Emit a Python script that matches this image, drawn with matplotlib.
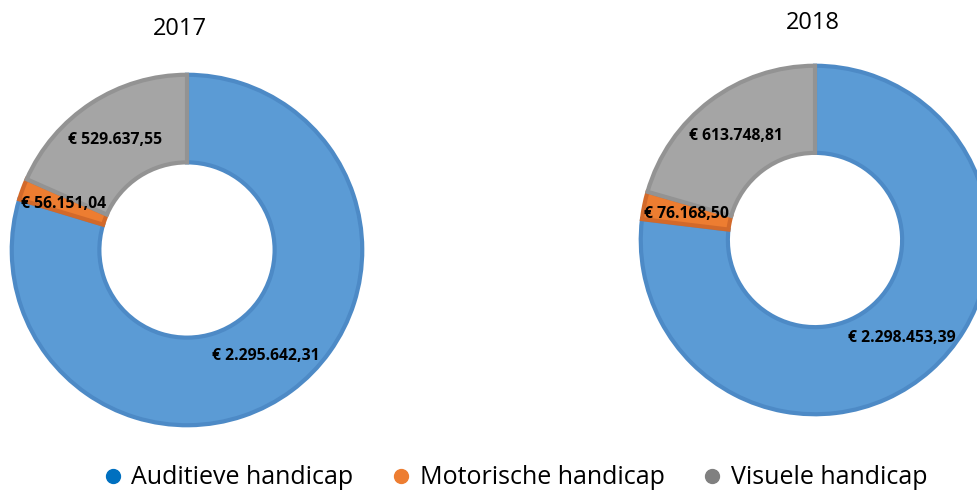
import matplotlib.pyplot as plt
from matplotlib.lines import Line2D

# Bedragen per type handicap
categories = ['Auditieve handicap', 'Motorische handicap', 'Visuele handicap']
years = ['2017', '2018']
values_2017 = [2295642.31, 56151.04, 529637.55]
values_2018 = [2298453.39, 76168.50, 613748.81]

fill_colors = ['#5B9BD5', '#ED7D31', '#A5A5A5']
edge_colors = ['#4D8AC6', '#D2692A', '#939393']
legend_colors = ['#0070C0', '#ED7D31', '#808080']

plt.rcParams['font.family'] = ['Open Sans', 'DejaVu Sans']


def euro(v):
    s = f'{v:,.2f}'
    s = s.replace(',', 'X').replace('.', ',').replace('X', '.')
    return '€ ' + s


W, H = 977, 493
fig = plt.figure(figsize=(W / 100, H / 100), dpi=100)

# (center x, center y, radius) in pixels
layout = [(187, 250, 177), (815, 240, 176)]
titles_pos = [(180, 29), (813, 23)]

for vals, year, (cx, cy, r), (tx, ty) in zip([values_2017, values_2018], years, layout, titles_pos):
    ax = fig.add_axes([(cx - r) / W, (H - cy - r) / H, 2 * r / W, 2 * r / H])
    wedges, texts = ax.pie(vals, labels=[euro(v) for v in vals], colors=fill_colors,
                           startangle=90, counterclock=False, labeldistance=0.75,
                           wedgeprops=dict(width=0.5, linewidth=3),
                           textprops=dict(fontsize=11.3, fontweight='bold', color='black',
                                          ha='center', va='center'))
    for w, ec in zip(wedges, edge_colors):
        w.set_edgecolor(ec)
    ax.set_xlim(-1.01, 1.01)
    ax.set_ylim(-1.01, 1.01)
    ax.axis('off')
    fig.text(tx / W, 1 - ty / H, year, ha='center', va='center', fontsize=17)

handles = [Line2D([0], [0], marker='o', linestyle='none', markersize=10,
                  markerfacecolor=c, markeredgecolor=c) for c in legend_colors]
fig.legend(handles, categories, loc='center', bbox_to_anchor=(515 / W, 1 - 478 / H),
           ncol=3, frameon=False, fontsize=18, handlelength=0.8, handletextpad=0.35,
           columnspacing=1.5)

fig.savefig('out.png', dpi=100)
